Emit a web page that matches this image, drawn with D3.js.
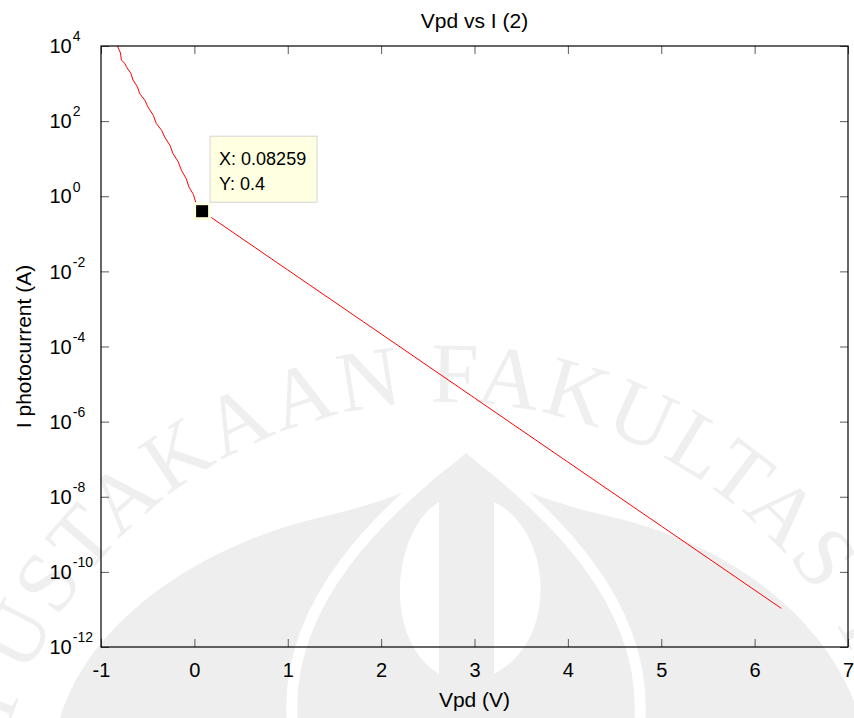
<!DOCTYPE html>
<html>
<head>
<meta charset="utf-8">
<script src="https://cdn.jsdelivr.net/npm/d3@7"></script>
<style>
  html, body { margin: 0; padding: 0; background: #fff; }
  svg { display: block; font-family: "Liberation Sans", Arial, sans-serif; }
</style>
</head>
<body>
<svg id="chart" width="854" height="718"></svg>
<script>
(function () {
  "use strict";

  // Reverse-bias branch (wiggly)
  const vUpper = [-0.824, -0.791, -0.782, -0.743, -0.728, -0.680, -0.657, -0.610, -0.586, -0.530,
    -0.497, -0.440, -0.407, -0.351, -0.318, -0.262, -0.229, -0.172, -0.139, -0.087,
    -0.058, -0.010, 0.014, 0.060, 0.08259];
  const iUpper = [1e4, 6.5e3, 4.2e3, 3.4e3, 2.8e3, 1.86e3, 1.24e3, 820, 540, 360,
    238, 143, 86, 57, 38, 22.8, 13.7, 8.2, 4.9, 2.94,
    1.76, 1.11, 0.70, 0.53, 0.4];

  // Forward branch (straight on log axis)
  const vLower = [0.08259, 1.0, 2.0, 3.0, 4.0, 5.0, 6.285];
  const iLower = [0.4, 1.09e-2, 2.16e-4, 4.26e-6, 8.4e-8, 1.66e-9, 1.07e-11];

  const tip = { x: 0.08259, y: 0.4 };

  const xTicks = [-1, 0, 1, 2, 3, 4, 5, 6, 7];
  const yExps = [-12, -10, -8, -6, -4, -2, 0, 2, 4];

  const LEFT = 101, RIGHT = 848, TOP = 46, BOTTOM = 647;
  const TICK = 8;

  const svg = d3.select("#chart");

  const x = d3.scaleLinear().domain([-1, 7]).range([LEFT, RIGHT]);
  const y = d3.scaleLog().domain([1e-12, 1e4]).range([BOTTOM, TOP]);

  // ---- watermark (library stamp) ----
  const wm = svg.append("g").attr("class", "watermark");
  const CX = 445, CY = 857, R = 455;
  svg.append("defs").append("path")
    .attr("id", "wm-arc")
    .attr("d", `M ${CX - R} ${CY} A ${R} ${R} 0 0 1 ${CX + R} ${CY}`);

  wm.append("path")
    .attr("fill", "#eeeeee")
    .attr("d", "M 60 718 C 90 620 200 545 322 517 C 395 500 440 480 466 452 C 492 480 537 500 612 517 C 732 545 830 620 860 718 Z");
  wm.append("path")
    .attr("fill", "none")
    .attr("stroke", "#fff")
    .attr("stroke-width", 11)
    .attr("d", "M 292 718 C 286 600 382 512 466 446 C 550 512 646 600 640 718");
  wm.append("path")
    .attr("fill", "#fff")
    .attr("d", "M 439 502 C 392 530 382 640 439 674 Z");
  wm.append("path")
    .attr("fill", "#fff")
    .attr("d", "M 494 502 C 552 530 560 640 494 674 Z");

  const wmFont = (t) => t
    .attr("fill", "#efefef")
    .style("font-family", "'Liberation Serif', 'DejaVu Serif', serif")
    .style("font-size", "86px")
    .style("letter-spacing", "3px");

  wm.append("text").call(wmFont)
    .append("textPath")
    .attr("href", "#wm-arc")
    .attr("startOffset", 676)
    .attr("text-anchor", "end")
    .text("PERPUSTAKAAN");
  wm.append("text").call(wmFont)
    .append("textPath")
    .attr("href", "#wm-arc")
    .attr("startOffset", 700)
    .text("FAKULTAS TEKNIK");

  // ---- data ----
  const line = d3.line()
    .x((d) => x(d[0]))
    .y((d) => y(d[1]));

  const upper = vUpper.map((v, i) => [v, iUpper[i]]);
  const lower = vLower.map((v, i) => [v, iLower[i]]);

  svg.append("path")
    .datum(upper.concat(lower.slice(1)))
    .attr("fill", "none")
    .attr("stroke", "#ff0000")
    .attr("stroke-width", 1)
    .attr("d", line);

  // ---- axes (inward ticks, boxed) ----
  const tickStroke = (g) => g.selectAll(".tick line").attr("stroke", "#5a5a5a");

  svg.append("g")
    .attr("transform", `translate(0,${BOTTOM})`)
    .call(d3.axisBottom(x).tickValues(xTicks).tickSize(-TICK).tickSizeOuter(0).tickPadding(16)
      .tickFormat((d) => String(d)))
    .call((g) => g.select(".domain").remove())
    .call(tickStroke)
    .call((g) => g.selectAll(".tick text")
      .attr("fill", "#000")
      .style("font-size", "20px")
      .style("font-family", "'Liberation Sans', Arial, sans-serif"));

  svg.append("g")
    .attr("transform", `translate(0,${TOP})`)
    .call(d3.axisTop(x).tickValues(xTicks).tickSize(-TICK).tickSizeOuter(0).tickFormat(""))
    .call((g) => g.select(".domain").remove())
    .call(tickStroke);

  const yTickVals = yExps.map((e) => Math.pow(10, e));

  svg.append("g")
    .attr("transform", `translate(${LEFT},0)`)
    .call(d3.axisLeft(y).tickValues(yTickVals).tickSize(-TICK).tickSizeOuter(0).tickFormat(""))
    .call((g) => g.select(".domain").remove())
    .call(tickStroke);

  svg.append("g")
    .attr("transform", `translate(${RIGHT},0)`)
    .call(d3.axisRight(y).tickValues(yTickVals).tickSize(-TICK).tickSizeOuter(0).tickFormat(""))
    .call((g) => g.select(".domain").remove())
    .call(tickStroke);

  // y tick labels as 10^n, one text each with a raised exponent
  const yLab = svg.append("g")
    .selectAll("text")
    .data(yExps)
    .join("text")
    .attr("x", 49.5)
    .attr("y", (d) => y(Math.pow(10, d)))
    .attr("dy", "0.36em")
    .style("font-size", "20px");
  yLab.append("tspan").text("10");
  yLab.append("tspan")
    .attr("dx", 1)
    .attr("dy", "-0.85em")
    .style("font-size", "14px")
    .text((d) => String(d));

  svg.append("rect")
    .attr("x", LEFT)
    .attr("y", TOP)
    .attr("width", RIGHT - LEFT)
    .attr("height", BOTTOM - TOP)
    .attr("fill", "none")
    .attr("stroke", "#000")
    .attr("stroke-width", 1.2);

  // ---- data tip ----
  svg.append("rect")
    .attr("x", x(tip.x) - 7.5)
    .attr("y", y(tip.y) - 7.5)
    .attr("width", 15)
    .attr("height", 15)
    .attr("fill", "#000")
    .attr("stroke", "#ffffe1")
    .attr("stroke-width", 3);

  const bx = x(tip.x) + 8, by = y(tip.y) - 75;
  svg.append("rect")
    .attr("x", bx)
    .attr("y", by)
    .attr("width", 107)
    .attr("height", 66)
    .attr("fill", "#ffffe1")
    .attr("stroke", "#d4d4d4");
  svg.append("text")
    .attr("x", bx + 9)
    .attr("y", by + 29)
    .style("font-size", "18px")
    .text(`X: ${tip.x}`);
  svg.append("text")
    .attr("x", bx + 9)
    .attr("y", by + 54)
    .style("font-size", "18px")
    .text(`Y: ${tip.y}`);

  // ---- titles ----
  svg.append("text")
    .attr("x", (LEFT + RIGHT) / 2)
    .attr("y", 28)
    .attr("text-anchor", "middle")
    .style("font-size", "21px")
    .text("Vpd vs I (2)");

  svg.append("text")
    .attr("x", (LEFT + RIGHT) / 2)
    .attr("y", 707)
    .attr("text-anchor", "middle")
    .style("font-size", "21px")
    .text("Vpd (V)");

  svg.append("text")
    .attr("transform", `translate(31,${(TOP + BOTTOM) / 2}) rotate(-90)`)
    .attr("text-anchor", "middle")
    .style("font-size", "21px")
    .text("I photocurrent (A)");
})();
</script>
</body>
</html>
